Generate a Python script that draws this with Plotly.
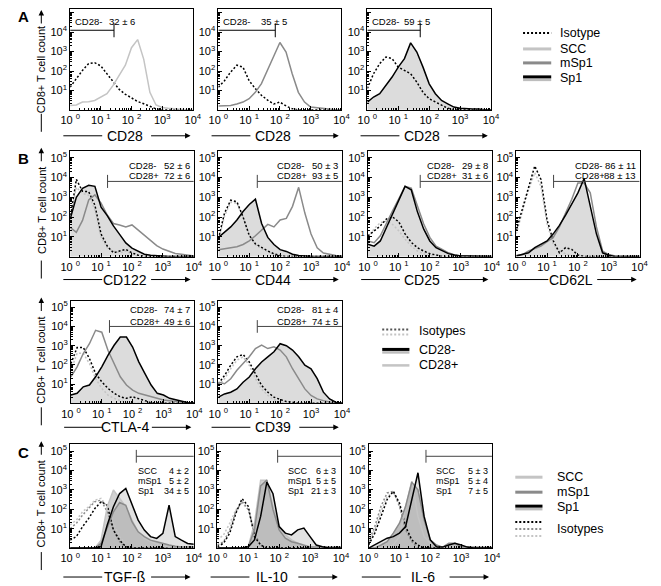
import plotly.graph_objects as go

W, H = 661, 586
OFF = 8  # page body margin of the viewer; layout coordinates below are measured in window pixels
FONT = "Liberation Sans, Arial, Helvetica, sans-serif"

# ---------------- data (log10 of cell count, read at each log10 fluorescence position) -------------
X_LOG = [0.0, 0.2, 0.4, 0.6, 0.8, 1.0, 1.2, 1.4, 1.6, 1.8, 2.0,
         2.2, 2.4, 2.6, 2.8, 3.0, 3.2, 3.4, 3.6, 3.8, 4.0]

# Panel A : CD28
A1_ISO = [1.17, 1.6, 2.03, 2.38, 2.43, 2.26, 1.86, 1.43, 1.05, 0.8, 0.6, 0.43, 0.31, 0.19, 0.05, 0, 0, 0, 0, 0, 0]
A1_SCC = [0.22, 0.25, 0.4, 0.42, 0.48, 0.66, 0.83, 1.26, 1.75, 2.3, 3.2, 3.62, 2.6, 0.9, 0.25, 0.12, 0.08, 0.05, 0.03, 0, 0]
A2_ISO = [1.17, 1.5, 1.95, 2.3, 2.2, 1.5, 1.1, 0.75, 0.5, 0.3, 0.4, 0.2, 0.05, 0, 0, 0, 0, 0, 0, 0, 0]
A2_MSP1 = [0.2, 0.2, 0.22, 0.3, 0.4, 0.57, 0.9, 1.35, 2.03, 2.8, 3.47, 2.98, 1.86, 0.9, 0.4, 0.14, 0.1, 0.05, 0.03, 0, 0]
A3_ISO = [1.1, 1.86, 2.38, 2.72, 2.64, 2.2, 2.03, 1.86, 1.43, 0.9, 0.57, 0.4, 0.22, 0.08, 0, 0, 0, 0, 0, 0, 0]
A3_SP1 = [0.4, 0.66, 0.83, 1.26, 1.69, 2.2, 2.64, 3.45, 2.98, 2.2, 1.34, 0.83, 0.48, 0.31, 0.14, 0.08, 0.05, 0.04, 0.04, 0, 0]
A_GATES = [1.43, 1.85, 1.71]
A_VALUES = ["32 ± 6", "35 ± 5", "59 ± 5"]

# Panel B : CD28- / CD28+ subsets
B_MARKERS = ["CD122", "CD44", "CD25", "CD62L", "CTLA-4", "CD39"]
CD122_ISO_NEG = [1.9, 3.9, 3.3, 3.28, 2.6, 1.14, 0.53, 0.19, 0.28, 0.36, 0.19, 0.07, 0, 0, 0, 0, 0, 0, 0, 0, 0]
CD122_ISO_POS = [1.8, 3.5, 3.2, 3.1, 2.36, 0.98, 0.45, 0.28, 0.19, 0.28, 0.14, 0, 0, 0, 0, 0, 0, 0, 0, 0, 0]
CD122_NEG = [1.9, 3.0, 3.45, 3.6, 3.55, 2.5, 2.07, 1.55, 1.12, 0.69, 0.43, 0.26, 0.12, 0.07, 0.04, 0, 0, 0, 0, 0, 0]
CD122_POS = [1.48, 1.22, 1.83, 2.86, 3.12, 2.7, 2.1, 1.67, 1.6, 1.5, 1.6, 1.33, 1.07, 0.81, 0.55, 0.38, 0.26, 0.16, 0.12, 0.09, 0.03]
CD44_ISO_NEG = [0.9, 2.2, 2.85, 2.77, 2.0, 1.07, 0.64, 0.45, 0.28, 0.14, 0.05, 0, 0, 0, 0, 0, 0, 0, 0, 0, 0]
CD44_ISO_POS = [0.8, 2.05, 2.75, 2.7, 2.0, 1.1, 0.6, 0.4, 0.25, 0.12, 0.04, 0, 0, 0, 0, 0, 0, 0, 0, 0, 0]
CD44_NEG = [0.97, 1.23, 1.5, 1.85, 2.28, 2.63, 2.9, 1.67, 0.97, 0.61, 0.35, 0.26, 0.12, 0.05, 0.02, 0, 0, 0, 0, 0, 0]
CD44_POS = [0.35, 0.4, 0.44, 0.5, 0.61, 0.79, 1.05, 1.32, 1.63, 1.5, 1.85, 1.93, 2.54, 3.5, 2.2, 1.14, 0.44, 0.18, 0.1, 0.05, 0.02]
CD25_ISO_NEG = [1.05, 1.3, 1.55, 1.9, 2.0, 1.75, 1.15, 0.72, 0.45, 0.28, 0.15, 0.08, 0, 0, 0, 0, 0, 0, 0, 0, 0]
CD25_ISO_POS = [0.97, 1.4, 1.72, 1.8, 1.62, 1.3, 0.88, 0.53, 0.28, 0.14, 0.05, 0, 0, 0, 0, 0, 0, 0, 0, 0, 0]
CD25_NEG = [0.62, 0.53, 0.79, 1.48, 2.17, 2.86, 3.55, 3.38, 2.26, 1.4, 0.79, 0.45, 0.28, 0.15, 0.08, 0.03, 0.03, 0.03, 0.03, 0, 0]
CD25_POS = [0.79, 0.7, 1.05, 1.72, 2.33, 2.93, 3.55, 3.46, 2.52, 1.66, 0.97, 0.53, 0.36, 0.19, 0.08, 0.03, 0.03, 0.03, 0.03, 0, 0]
CD62L_ISO_NEG = [1.33, 2.45, 3.55, 4.58, 3.9, 1.84, 0.8, 0.19, 0.45, 0.36, 0.08, 0, 0, 0, 0, 0, 0, 0, 0, 0, 0]
CD62L_ISO_POS = [1.15, 2.28, 3.38, 4.24, 3.55, 1.66, 0.62, 0.28, 0.14, 0.05, 0, 0, 0, 0, 0, 0, 0, 0, 0, 0, 0]
CD62L_NEG = [0.03, 0.1, 0.19, 0.45, 0.62, 0.79, 1.15, 1.58, 2.1, 2.7, 3.22, 3.95, 2.62, 1.15, 0.19, 0.07, 0, 0, 0, 0, 0]
CD62L_POS = [0.05, 0.1, 0.28, 0.4, 0.53, 0.75, 0.97, 1.5, 2.17, 2.9, 3.72, 3.72, 3.22, 1.5, 0.28, 0.1, 0.03, 0, 0, 0, 0]
CTLA4_ISO_NEG = [2.07, 2.9, 2.9, 2.33, 1.55, 1.12, 0.78, 0.52, 0.34, 0.26, 0.34, 0.26, 0.14, 0.03, 0, 0, 0, 0, 0, 0, 0]
CTLA4_ISO_POS = [1.72, 2.6, 2.6, 2.07, 1.29, 0.78, 0.43, 0.26, 0.14, 0.03, 0, 0, 0, 0, 0, 0, 0, 0, 0, 0, 0]
CTLA4_NEG = [0.43, 0.52, 0.86, 0.95, 1.38, 1.9, 2.5, 3.02, 3.45, 3.45, 2.93, 2.16, 1.55, 0.95, 0.52, 0.43, 0.26, 0.17, 0.09, 0.03, 0]
CTLA4_POS = [1.38, 1.9, 2.59, 3.1, 3.8, 3.7, 2.76, 2.07, 1.38, 0.95, 0.69, 0.52, 0.43, 0.34, 0.26, 0.17, 0.14, 0.09, 0.05, 0.03, 0]
CD39_ISO_NEG = [1.02, 1.45, 1.98, 2.42, 2.54, 2.15, 1.54, 0.93, 0.58, 0.32, 0.2, 0.09, 0.06, 0, 0, 0, 0, 0, 0, 0, 0]
CD39_ISO_POS = [0.93, 1.28, 1.8, 2.24, 2.42, 1.98, 1.28, 0.75, 0.41, 0.2, 0.06, 0, 0, 0, 0, 0, 0, 0, 0, 0, 0]
CD39_NEG = [0.32, 0.49, 0.58, 0.75, 1.1, 1.37, 1.8, 2.15, 2.42, 2.68, 3.1, 3.0, 2.77, 2.42, 1.98, 1.8, 1.28, 0.58, 0.23, 0.06, 0]
CD39_POS = [1.1, 1.02, 1.28, 1.72, 2.07, 2.42, 2.85, 3.03, 2.85, 2.94, 2.77, 2.42, 1.8, 1.28, 0.75, 0.41, 0.23, 0.14, 0.06, 0, 0]
B_GATES = [1.21, 1.26, 1.69, 1.21, 1.25, 1.26]
B_NEG_VALUES = ["52 ± 6", "50 ± 3", "29 ± 8", "86 ± 11", "74 ± 7", "81 ± 4"]
B_POS_VALUES = ["72 ± 6", "93 ± 5", "31 ± 6", "88 ± 13", "49 ± 6", "74 ± 5"]

# Panel C : cytokines
C_MARKERS = ["TGF-ß", "IL-10", "IL-6"]
TGFB_ISO_SP1 = [0.41, 0.59, 1.1, 1.53, 2.04, 2.39, 2.21, 0.93, 0.41, 0.07, 0, 0, 0, 0, 0, 0, 0, 0, 0, 0, 0]
TGFB_ISO_MSP1 = [1.01, 1.27, 1.7, 2.04, 2.39, 2.47, 1.87, 0.93, 0.33, 0, 0, 0, 0, 0, 0, 0, 0, 0, 0, 0, 0]
TGFB_ISO_SCC = [1.19, 1.44, 1.87, 2.13, 2.47, 2.56, 2.13, 1.27, 0.59, 0.16, 0, 0, 0, 0, 0, 0, 0, 0, 0, 0, 0]
TGFB_SCC = [0, 0, 0, 0, 0, 0.41, 2.13, 2.99, 2.56, 2.13, 1.44, 0.84, 0.5, 0.33, 0.21, 0.1, 0.05, 0.05, 0.05, 0.05, 0.05]
TGFB_MSP1 = [0, 0, 0, 0, 0, 0.24, 1.1, 1.87, 2.35, 2.2, 1.36, 0.84, 0.59, 0.41, 0.33, 0.24, 0.16, 0.1, 0.05, 0.05, 0.05]
TGFB_SP1 = [0, 0, 0, 0, 0, 0.07, 1.19, 2.13, 2.81, 3.07, 2.3, 1.44, 0.93, 0.59, 0.5, 0.76, 2.21, 0.59, 0.41, 0.24, 0.2]
IL10_ISO_SP1 = [0.07, 0.25, 0.77, 1.8, 2.55, 2.15, 0.59, 0.16, 0, 0, 0, 0, 0, 0, 0, 0, 0, 0, 0, 0, 0]
IL10_ISO_MSP1 = [0.16, 0.33, 0.94, 1.89, 2.41, 1.98, 0.77, 0.16, 0, 0, 0, 0, 0, 0, 0, 0, 0, 0, 0, 0, 0]
IL10_ISO_SCC = [0.42, 0.68, 1.28, 1.98, 2.32, 1.98, 0.94, 0.33, 0, 0, 0, 0, 0, 0, 0, 0, 0, 0, 0, 0, 0]
IL10_SCC = [0, 0, 0, 0, 0, 0.07, 1.28, 3.5, 3.5, 2.15, 1.11, 0.68, 0.42, 0.25, 0.16, 0.07, 0.03, 0.03, 0.03, 0.03, 0.03]
IL10_MSP1 = [0, 0, 0, 0, 0, 0.07, 0.94, 3.2, 3.5, 1.98, 0.94, 0.51, 0.33, 0.25, 0.16, 0.05, 0.05, 0.05, 0.05, 0.05, 0.05]
IL10_SP1 = [0, 0, 0, 0, 0, 0.07, 0.42, 1.63, 3.4, 2.8, 1.11, 0.77, 0.68, 0.94, 1.03, 0.59, 0.16, 0.07, 0, 0, 0]
IL6_ISO_SP1 = [0.16, 0.77, 1.63, 2.5, 2.93, 2.32, 1.11, 0.42, 0.16, 0, 0, 0, 0, 0, 0, 0, 0, 0, 0, 0, 0]
IL6_ISO_MSP1 = [0.33, 1.11, 2.15, 2.84, 2.93, 2.15, 0.94, 0.33, 0, 0, 0, 0, 0, 0, 0, 0, 0, 0, 0, 0, 0]
IL6_ISO_SCC = [0.25, 0.94, 1.89, 2.67, 2.84, 2.32, 1.11, 0.42, 0, 0, 0, 0, 0, 0, 0, 0, 0, 0, 0, 0, 0]
IL6_SCC = [0, 0, 0, 0, 0.16, 0.59, 2.15, 3.45, 1.63, 0.59, 0.25, 0.1, 0.05, 0.05, 0.05, 0.05, 0.05, 0.05, 0.05, 0.05, 0.03]
IL6_MSP1 = [0, 0, 0.16, 0.33, 0.77, 1.28, 2.15, 3.4, 3.0, 1.46, 0.42, 0.16, 0.05, 0.25, 0.25, 0.05, 0.05, 0.05, 0.05, 0.05, 0.03]
IL6_SP1 = [0, 0.16, 0.33, 0.51, 0.59, 0.77, 1.11, 2.5, 3.88, 1.63, 0.42, 0.07, 0.05, 0.16, 0.25, 0.16, 0.05, 0, 0, 0, 0]
C_GATES = [2.14, 1.95, 1.86]
C_SCC_VALUES = ["4 ± 2", "6 ± 3", "5 ± 3"]
C_MSP1_VALUES = ["5 ± 2", "5 ± 5", "5 ± 4"]
C_SP1_VALUES = ["34 ± 5", "21 ± 3", "7 ± 5"]

# ---------------- styles ----------------
BLACK = "#000000"
GREY = "#8a8a8a"
LIGHT = "#c4c4c4"
FILL = "#dcdcdc"
LW = 1.5
DOT = "2px,2px"
ISO_K = dict(color=BLACK, width=LW, dash=DOT)
ISO_G = dict(color=GREY, width=LW, dash=DOT)
ISO_L = dict(color=LIGHT, width=LW, dash=DOT)
LINE_K = dict(color=BLACK, width=LW)
LINE_G = dict(color=GREY, width=LW)
LINE_L = dict(color=LIGHT, width=LW)
Y_TOP = 5.35

fig = go.Figure()
annotations = []
shapes = []


def fx(px):
    return (px - OFF) / W


def fy(py):
    return 1 - (py - OFF) / H


def paper_text(x, y, text, size, xanchor="center", yanchor="middle", angle=0):
    annotations.append(dict(x=fx(x), y=fy(y), xref="paper", yref="paper", text=text,
                            showarrow=False, xanchor=xanchor, yanchor=yanchor, textangle=angle,
                            font=dict(size=size, family=FONT, color=BLACK)))


def paper_arrow(x, y, ax, ay):
    annotations.append(dict(x=fx(x), y=fy(y), xref="paper", yref="paper", text="",
                            showarrow=True, ax=ax, ay=ay, arrowhead=2, arrowsize=1.1,
                            arrowwidth=1, arrowcolor=BLACK, standoff=0, startstandoff=0))


def paper_line(x0, y0, x1, y1, color=BLACK, width=1, dash=None):
    ln = dict(color=color, width=width)
    if dash:
        ln["dash"] = dash
    shapes.append(dict(type="line", xref="paper", yref="paper", x0=fx(x0), x1=fx(x1),
                       y0=fy(y0), y1=fy(y1), line=ln))


X_TICKS = [1, 10, 100, 1000, 10000]
X_TEXT = ["10 <sup>0</sup>", "10 <sup>1</sup>", "10 <sup>2</sup>", "10<sup>3</sup>", "10<sup>4</sup>"]
Y_TICKS = [10, 100, 1000, 10000, 100000]
Y_TEXT = ["10<sup>1</sup>", "10<sup>2</sup>", "10<sup>3</sup>", "10<sup>4</sup>", "10<sup>5</sup>"]
MINOR_X = [m * 10 ** k for k in range(4) for m in range(2, 10)]
MINOR_Y = [m * 10 ** k for k in range(5) for m in range(2, 10)]
XS = [10 ** v for v in X_LOG]

panel_index = [0]


def add_panel(box, title, title_dy, fills, lines):
    panel_index[0] += 1
    i = panel_index[0]
    l, r, t, b = box
    y_top = Y_TOP
    if t < OFF:  # top of the box falls into the page margin: trim it, keep the same scale
        y_top = Y_TOP - (OFF - t) / (b - t) * Y_TOP
        t = OFF
    sx = "" if i == 1 else str(i)
    common = dict(ticks="inside", ticklen=4, tickcolor=BLACK,
                  showline=True, linecolor=BLACK, linewidth=1, mirror=True,
                  showgrid=False, zeroline=False,
                  tickfont=dict(size=11, color=BLACK, family=FONT))
    xa = dict(domain=[fx(l), fx(r)], anchor="y" + sx, type="log", range=[0, 4],
              tickmode="array", tickvals=X_TICKS, ticktext=X_TEXT,
              minor=dict(tickvals=MINOR_X, ticks="inside", ticklen=2, tickcolor=BLACK, showgrid=False),
              **common)
    ya = dict(domain=[fy(b), min(1.0, fy(t))], anchor="x" + sx, type="log", range=[0, y_top],
              tickmode="array", tickvals=Y_TICKS, ticktext=Y_TEXT,
              minor=dict(tickvals=MINOR_Y, ticks="inside", ticklen=2, tickcolor=BLACK, showgrid=False),
              **common)
    fig.layout["xaxis" + sx] = xa
    fig.layout["yaxis" + sx] = ya
    for vals, color in fills:
        ys = [10 ** v for v in vals]
        fig.add_trace(go.Scatter(x=[XS[0]] + XS + [XS[-1]], y=[0.3] + ys + [0.3],
                                 mode="lines", fill="toself", fillcolor=color,
                                 line=dict(width=0), hoverinfo="skip", showlegend=False,
                                 xaxis="x" + sx, yaxis="y" + sx))
    for vals, style in lines:
        fig.add_trace(go.Scatter(x=XS, y=[10 ** v for v in vals], mode="lines",
                                 line=style, showlegend=False,
                                 xaxis="x" + sx, yaxis="y" + sx))
    # x-axis title with lines and arrow
    ty = b + title_dy
    paper_text(l + 56, ty, title, 14)
    paper_line(l - 7, ty, l + 33, ty)
    paper_arrow(l + 124, ty, -41, 0)
    return sx


def gate_trace(sx, x0, x1, gx, level, half, color):
    fig.add_trace(go.Scatter(x=[10 ** x0, 10 ** x1, None, 10 ** gx, 10 ** gx],
                             y=[10 ** level, 10 ** level, None, 10 ** (level - half), 10 ** (level + half)],
                             mode="lines", line=dict(color=color, width=1), showlegend=False,
                             hoverinfo="skip", xaxis="x" + sx, yaxis="y" + sx))


def dom_text(sx, x, y, text, anchor, size=10):
    annotations.append(dict(x=x, y=y, xref="x" + sx + " domain", yref="y" + sx + " domain",
                            text=text, showarrow=False, xanchor=anchor, yanchor="middle",
                            font=dict(size=size, family=FONT, color=BLACK)))


# ---------------- Panel A ----------------
A_BOXES = [(61.7, 188, 5, 109), (214.3, 341, 5, 109), (367.7, 495, 5, 109)]
A_VALUE_X = [0.42, 0.45, 0.4]
a_sets = [
    ([], [(A1_ISO, ISO_K), (A1_SCC, LINE_L)]),
    ([], [(A2_ISO, ISO_K), (A2_MSP1, LINE_G)]),
    ([(A3_SP1, FILL)], [(A3_ISO, ISO_K), (A3_SP1, LINE_K)]),
]
for k in range(3):
    sx = add_panel(A_BOXES[k], "CD28", 26, *a_sets[k])
    gate_trace(sx, 0, A_GATES[k], A_GATES[k], 4.1, 0.36, BLACK)
    dom_text(sx, 0.025, 0.875, "CD28-", "left", 9.5)
    dom_text(sx, A_VALUE_X[k], 0.875, A_VALUES[k], "center", 9.5)

# ---------------- Panel B ----------------
B_BOXES = [(61.7, 189, 150, 256), (214.3, 341.5, 150, 256), (368.3, 495.7, 150, 256),
           (521, 648, 150, 256), (62.5, 189.5, 300, 403), (214.3, 341.5, 300, 403)]
B_DATA = [
    (CD122_ISO_NEG, CD122_ISO_POS, CD122_NEG, CD122_POS),
    (CD44_ISO_NEG, CD44_ISO_POS, CD44_NEG, CD44_POS),
    (CD25_ISO_NEG, CD25_ISO_POS, CD25_NEG, CD25_POS),
    (CD62L_ISO_NEG, CD62L_ISO_POS, CD62L_NEG, CD62L_POS),
    (CTLA4_ISO_NEG, CTLA4_ISO_POS, CTLA4_NEG, CTLA4_POS),
    (CD39_ISO_NEG, CD39_ISO_POS, CD39_NEG, CD39_POS),
]
for k in range(6):
    iso_n, iso_p, neg, pos = B_DATA[k]
    row2 = k >= 4
    sx = add_panel(B_BOXES[k], B_MARKERS[k], 24 if row2 else 23,
                   [(neg, FILL)],
                   [(iso_p, ISO_L), (iso_n, ISO_K), (pos, LINE_G), (neg, LINE_K)])
    level = 4.0 if row2 else 3.8
    gate_trace(sx, B_GATES[k], 4, B_GATES[k], level, 0.33, "#444444")
    y1, y2 = (0.91, 0.80) if row2 else (0.86, 0.765)
    dom_text(sx, 0.46, y1, "CD28-", "left", 9.5)
    dom_text(sx, 0.46, y2, "CD28+", "left", 9.5)
    dom_text(sx, 0.985, y1, B_NEG_VALUES[k], "right", 9.5)
    dom_text(sx, 0.985, y2, B_POS_VALUES[k], "right", 9.5)

# ---------------- Panel C ----------------
C_BOXES = [(61.7, 189, 444, 548), (213.3, 340.5, 444, 548), (369, 496, 444, 548)]
C_DATA = [
    (TGFB_ISO_SP1, TGFB_ISO_MSP1, TGFB_ISO_SCC, TGFB_SCC, TGFB_MSP1, TGFB_SP1),
    (IL10_ISO_SP1, IL10_ISO_MSP1, IL10_ISO_SCC, IL10_SCC, IL10_MSP1, IL10_SP1),
    (IL6_ISO_SP1, IL6_ISO_MSP1, IL6_ISO_SCC, IL6_SCC, IL6_MSP1, IL6_SP1),
]
C_LABEL_X = [0.53, 0.555, 0.53]
for k in range(3):
    iso_s, iso_m, iso_c, scc, msp, sp = C_DATA[k]
    sx = add_panel(C_BOXES[k], C_MARKERS[k], 29,
                   [(sp, "#e2e2e2"), (scc, "#d2d2d2"), (msp, "#bdbdbd")],
                   [(iso_c, ISO_L), (iso_m, ISO_G), (iso_s, ISO_K),
                    (scc, LINE_L), (msp, LINE_G), (sp, LINE_K)])
    gate_trace(sx, C_GATES[k], 4, C_GATES[k], 4.73, 0.33, "#444444")
    for j, (lab, vals) in enumerate([("SCC", C_SCC_VALUES), ("mSp1", C_MSP1_VALUES), ("Sp1", C_SP1_VALUES)]):
        yy = [0.74, 0.645, 0.55][j]
        dom_text(sx, C_LABEL_X[k], yy, lab, "left", 9)
        dom_text(sx, 0.98, yy, vals[k], "right", 9)

# ---------------- y-axis titles ----------------
ROWS = [(9, 109), (150, 256), (300, 403), (444, 548)]
for t, b in ROWS:
    paper_text(32, t + 60, "CD8+ T cell count", 11, angle=-90)
    paper_arrow(32, max(t - 3, 9), 0, 15)
    paper_line(32, b + 4, 32, b + 22)

# panel letters
for letter, (px, py) in zip("ABC", [(14, 16), (14, 158), (14, 452)]):
    paper_text(px, py, "<b>%s</b>" % letter, 15)


# ---------------- legends ----------------
def leg_text(x, y, text):
    paper_text(x, y, text, 12.5, xanchor="left")


# legend A
paper_line(528, 32, 557, 32, BLACK, 2, DOT)
leg_text(564, 32, "Isotype")
paper_line(528, 48, 557, 48, LIGHT, 3)
leg_text(564, 48, "SCC")
paper_line(528, 62, 557, 62, GREY, 3)
leg_text(564, 62, "mSp1")
paper_line(528, 79, 557, 79, "#bdbdbd", 2.5)
paper_line(528, 76, 557, 76, BLACK, 3)
leg_text(564, 77, "Sp1")

# legend B
paper_line(383, 329, 411, 329, "#555555", 2, DOT)
paper_line(383, 334, 411, 334, LIGHT, 2, DOT)
leg_text(419, 331, "Isotypes")
paper_line(383, 352, 411, 352, "#bdbdbd", 2.5)
paper_line(383, 349, 411, 349, BLACK, 3)
leg_text(419, 350, "CD28-")
paper_line(383, 365, 411, 365, LIGHT, 2.5)
leg_text(419, 365, "CD28+")

# legend C
paper_line(520, 477, 548, 477, LIGHT, 3)
leg_text(561, 477, "SCC")
paper_line(520, 492, 548, 492, GREY, 3)
leg_text(561, 492, "mSp1")
paper_line(520, 509, 548, 509, "#bdbdbd", 2.5)
paper_line(520, 506, 548, 506, BLACK, 3)
leg_text(561, 507, "Sp1")
paper_line(520, 522, 548, 522, BLACK, 2, DOT)
paper_line(520, 529, 548, 529, GREY, 2, DOT)
paper_line(520, 536, 548, 536, LIGHT, 2, DOT)
leg_text(561, 529, "Isotypes")

fig.update_layout(width=W, height=H, margin=dict(l=0, r=0, t=0, b=0),
                  paper_bgcolor="white", plot_bgcolor="white", showlegend=False,
                  font=dict(family=FONT, color=BLACK),
                  annotations=annotations, shapes=shapes)
fig.write_html("out.html")
